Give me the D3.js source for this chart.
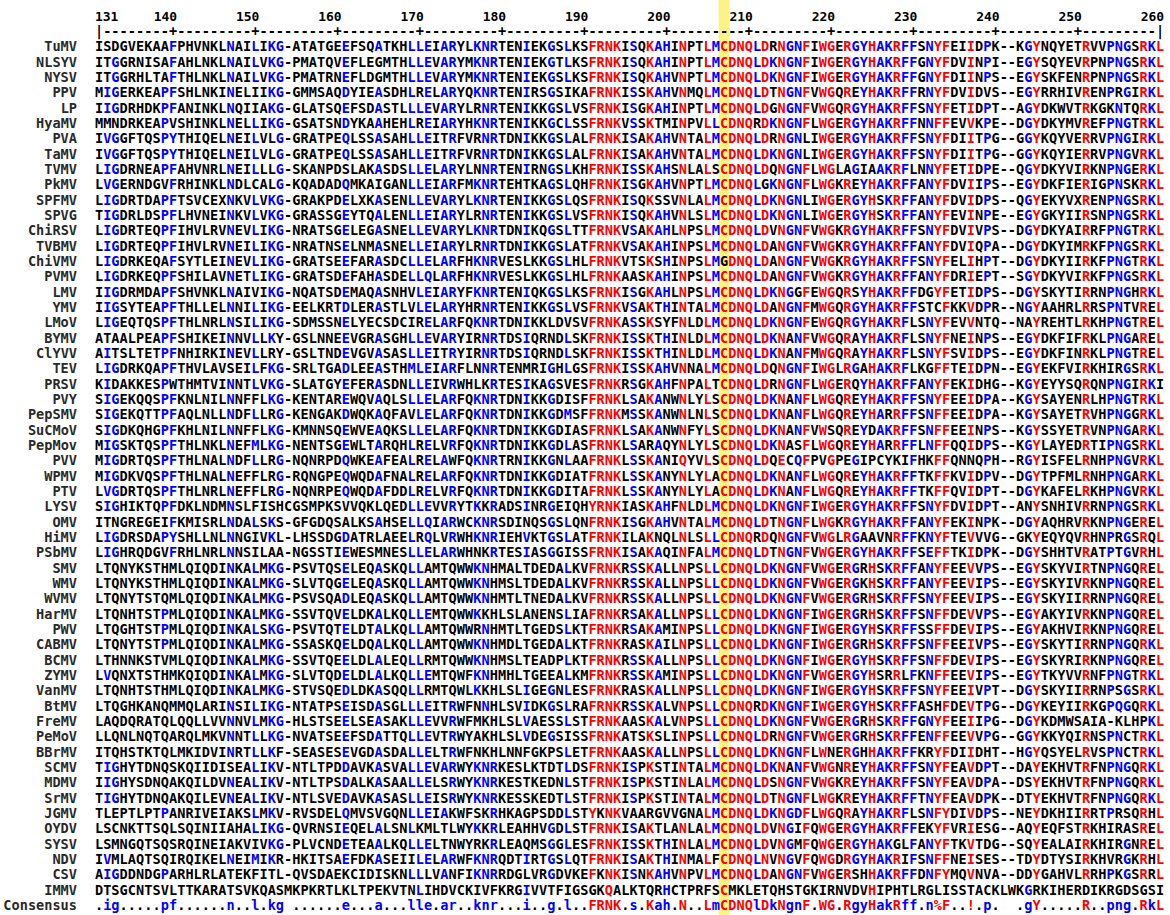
<!DOCTYPE html>
<html><head><meta charset="utf-8">
<script src="https://cdn.jsdelivr.net/npm/d3@7/dist/d3.min.js"></script>
<style>
body{margin:0;background:#fff;}
svg text{font-family:"DejaVu Sans Mono","Liberation Mono",monospace;font-weight:bold;}
</style>
</head><body>
<svg id="chart" width="1170" height="915"></svg>
<script>
// ---------------- DATA ----------------
const firstPos = 131;
const lastPos = 260;
const tickLabels = [131,140,150,160,170,180,190,200,210,220,230,240,250,260];
const highlightPos = [207];

const names = ["TuMV","NLSYV","NYSV","PPV","LP","HyaMV","PVA","TaMV","TVMV","PkMV","SPFMV","SPVG","ChiRSV","TVBMV","ChiVMV","PVMV","LMV","YMV","LMoV","BYMV","ClYVV","TEV","PRSV","PVY","PepSMV","SuCMoV","PepMov","PVV","WPMV","PTV","LYSV","OMV","HiMV","PSbMV","SMV","WMV","WVMV","HarMV","PWV","CABMV","BCMV","ZYMV","VanMV","BtMV","FreMV","PeMoV","BBrMV","SCMV","MDMV","SrMV","JGMV","OYDV","SYSV","NDV","CSV","IMMV"];

const sequences = [
"ISDGVEKAAFPHVNKLNAILIKG-ATATGEEFSQAT"+"KHLLEIARYLKNRTENIEKGSLKSFRNKISQKAHINPTLMCDNQLD"+"RNGNFIWGERGYHAKRFFSNYFEIIDPK--KGYNQYETRVVPNGSRKL",
"ITGGRNISAFAHLNKLNAILVKG-PMATQVEFLEGM"+"THLLEVARYMKNRTENIEKGTLKSFRNKISQKAHINPTLMCDNQLD"+"KNGNFIWGERGYHAKRFFGNYFDVINPI--EGYSQYEVRPNPNGSRKL",
"ITGGRHLTAFTHLNKLNAILVKG-PMATRNEFLDGM"+"THLLEVARYMKNRTENIEKGSLKSFRNKISQKAHVNPTLMCDNQLD"+"KNGNFIWGERGYHAKRFFGNYFDIINPS--EGYSKFENRPNPNGSRKL",
"MIGERKEAPFSHLNKINELIIKG-GMMSAQDYIEAS"+"DHLRELARYQKNRTENIRSGSIKAFRNKISSKAHVNMQLMCDNQLD"+"TNGNFVWGQREYHAKRFFRNYFDVIDVS--EGYRRHIVRENPRGIRKL",
"IIGDRHDKPFANINKLNQIIAKG-GLATSQEFSDAS"+"TLLLEVARYLRNRTENIKKGSLVSFRNKISGKAHINPTLMCDNQLD"+"GNGNFVWGQRGYHAKRFFSNYFETIDPT--AGYDKWVTRKGKNTQRKL",
"MMNDRKEAPVSHINKLNELLIKG-GSATSNDYKAAH"+"EHLREIARYHKNRTENIKKGCLSSFRNKVSSKTMINPVLLCDNQRD"+"KNGNFLWGERGYHAKRFFNNFFEVVKPE--DGYDKYMVREFPNGTRKL",
"IVGGFTQSPYTHIQELNEILVLG-GRATPEQLSSAS"+"AHLLEITRFVRNRTDNIKKGSLALFRNKISAKAHVNTALMCDNQLD"+"RNGNLIWGERGYHAKRFFSNYFDIITPG--GGYKQYVERRVPNGIRKL",
"IVGGFTQSPYTHIQELNEILVLG-GRATPEQLSSAS"+"AHLLEITRFVRNRTDNIKKGSLALFRNKISAKAHVNTALMCDNQLD"+"KNGNLIWGERGYHAKRFFSNYFDIITPG--GGYKQYIERRVPNGVRKL",
"LIGDRNEAPFAHVNRLNEILLLG-SKANPDSLAKAS"+"DSLLELARYLNNRTENIRNGSLKHFRNKISSKAHSNLALSCDNQLD"+"QNGNFLWGLAGIAAKRFLNNYFETIDPE--QGYDKYVIRKNPNGERKL",
"LVGERNDGVFRHINKLNDLCALG-KQADADQMKAIG"+"ANLLEIARFMKNRTEHTKAGSLQHFRNKISGKAHVNPTLMCDNQLG"+"KNGNFLWGKREYHAKRFFANYFDVIIPS--EGYDKFIERIGPNSKRKL",
"LIGDRTDAPFTSVCEXNKVLVKG-GRAKPDELXKAS"+"ENLLEVARYLKNRTENIKKGSLQSFRNKISQKSSVNLALMCDNQLD"+"KNGNLIWGERGYHSKRFFANYFDVIDPS--QGYEKYVXRENPNGSRKL",
"TIGDRLDSPFLHVNEINKVLVKG-GRASSGEYTQAL"+"ENLLEIARYLRNRTENIKKGSLVSFRNKISQKAHVNLSLMCDNQLD"+"KNGNLIWGERGYHSKRFFANYFEVINPE--EGYGKYIIRSNPNGSRKL",
"LIGDRTEQPFIHVLRVNEVLIKG-NRATSGELEGAS"+"NELLEVARYLKNRTDNIKQGSLTTFRNKVSAKAHLNPSLMCDNQLD"+"VNGNFVWGKRGYHAKRFFSNYFDVIVPS--DGYDKYAIRRFPNGTRKL",
"LIGDRTEQPFIHVLRVNEILIKG-NRATNSELNMAS"+"NELLEIARYLRNRTDNIKKGSLATFRNKVSAKAHINPSLMCDNQLD"+"ANGNFVWGKRGYHAKRFFANYFDVIQPA--DGYDKYIMRKFPNGSRKL",
"LIGDRKEQAFSYTLEINEVLIKG-GRATSEEFARAS"+"DCLLELARFHKNRVESLKKGSLHLFRNKVTSKSHINPSLMGDNQLD"+"ANGNFVWGKRGYHAKRFFSNYFELIHPT--DGYDKYIIRKFPNGTRKL",
"LIGDRKEQPFSHILAVNETLIKG-GRATSDEFAHAS"+"DELLQLARFHKNRVESLKKGSLHLFRNKAASKAHINPSLMCDNQLD"+"ANGNFVWGKRGYHAKRFFANYFDRIEPT--SGYDKYVIRKFPNGSRKL",
"IIGDRMDAPFSHVNKLNAIVIKG-NQATSDEMAQAS"+"NHVLEIARYFKNRTENIQKGSLKSFRNKISGKAHLNPSLMCDNQLD"+"KNGGFEWGQRSYHAKRFFDGYFETIDPS--DGYSKYTIRRNPNGHRKL",
"IIGSYTEAPFTHLLELNNILIKG-EELKRTDLERAS"+"TLVLELARYHRNRTENIKKGSLVSFRNKVSAKTHINTALMCDNQLD"+"ANGNFMWGQRGYHAKRFFSTCFKKVDPR--NGYAAHRLRRSPNTVREL",
"LIGEQTQSPFTHLNRLNSILIKG-SDMSSNELYECS"+"DCIRELARFQKNRTDNIKKLDVSVFRNKASSKSYFNLDLMCDNQLD"+"KNGNFEWGQRGYHAKRFLSNYFEVVNTQ--NAYREHTLRKHPNGTREL",
"ATAALPEAPFSHIKEINNVLLKY-GSLNNEEVGRAS"+"GHLLEVARYIRNRTDSIQRNDLSKFRNKISSKTHINLDLMCDNQLD"+"KNANFVWGQRAYHAKRFLSNYFNEINPS--EGYDKFIFRKLPNGAREL",
"AITSLTETPFNHIRKINEVLLRY-GSLTNDEVGVAS"+"ASLLEITRYIRNRTDSIQRNDLSKFRNKISSKTHINLDLMCDNQLD"+"KNANFMWGQRAYHAKRFLSNYFSVIDPS--EGYDKFINRKLPNGTREL",
"LIGDRKQAPFTHVLAVSEILFKG-SRLTGADLEEAS"+"THMLEIARFLNNRTENMRIGHLGSFRNKISSKAHVNNALMCDNQLD"+"QNGNFIWGLRGAHAKRFLKGFFTEIDPN--EGYEKFVIRKHIRGSRKL",
"KIDAKKESPWTHMTVINNTLVKG-SLATGYEFERAS"+"DNLLEIVRWHLKRTESIKAGSVESFRNKRSGKAHFNPALTCDNQLD"+"RNGNFLWGERQYHAKRFFANYFEKIDHG--KGYEYYSQRQNPNGIRKI",
"SIGEKQQSPFKNLNILNNFFLKG-KENTAREWQVAQ"+"LSLLELARFQKNRTDNIKKGDISFFRNKLSAKANWNLYLSCDNQLD"+"KNANFLWGQREYHAKRFFSNYFEEIDPA--KGYSAYENRLHPNGTRKL",
"SIGEKQTTPFAQLNLLNDFLLRG-KENGAKDWQKAQ"+"FAVLELARFQKNRTDNIKKGDMSFFRNKMSSKANWNLNLSCDNQLD"+"KNANFLWGQREYHARRFFSNFFEEIDPA--KGYSAYETRVHPNGGRKL",
"SIGDKQHGPFKHLNILNNFFLKG-KMNNSQEWVEAQ"+"KSLLELARFQKNRTDNIKKGDIASFRNKLSAKANWNFYLSCDNQLD"+"KNANFVWSQREYDAKRFFSNFFEEINPS--KGYSSYETRVNPNGARKL",
"MIGSKTQSPFTHLNKLNEFMLKG-NENTSGEWLTAR"+"QHLRELVRFQKNRTDNIKKGDLASFRNKLSARAQYNLYLSCDNQLD"+"KNASFLWGQREYHARRFFLNFFQQIDPS--KGYLAYEDRTIPNGSRKL",
"MIGDRTQSPFTHLNALNDFLLRG-NQNRPDQWKEAF"+"EALRELAWFQKNRTRNIKKGNLAAFRNKLSSKANIQYVLSCDNQLD"+"QECQFPVGPEGIPCYKIFHKFFQNNQPH--RGYISFELRNHPNGVRKL",
"MIGDKVQSPFTHLNALNEFFLRG-RQNGPEQWQDAF"+"NALRELARFQKNRTDNIKKGDIATFRNKLSSKANYNLYLACDNQLD"+"KNANFLWGQREYHAKRFFTKFFKVIDPV--DGYTPFMLRNHPNGARKL",
"LVGDRTQSPFTHLNRLNEFFLRG-NQNRPEQWQDAF"+"DDLRELVRFQKNRTDNIKKGDITAFRNKLSSKANYNLYLACDNQLD"+"KNANFLWGQREYHAKRFFTKFFQVIDPT--DGYKAFELRKHPNGVRKL",
"SIGHIKTQPFDKLNDMNSLFISHCGSMPKSVVQKLQ"+"EDLLEVVRYTKKRADSINRGEIQHYRNKIASKAHFNLDLMCDNQLD"+"KNGNFIWGERGYHAKRFFSNYFDVIDPT--ANYSNHIVRRNPNGSRKL",
"ITNGREGEIFKMISRLNDALSKS-GFGDQSALKSAH"+"SELLQIARWCKNRSDINQSGSLQNFRNKISGKAHVNTALMCDNQLD"+"TNGNFLWGKRGYHAKRFFANYFEKINPK--DGYAQHRVRKNPNGEREL",
"LIGDRSDAPYSHLLNLNNGIVKL-LHSSDGDATRLA"+"EELRQLVRWHKNRIEHVKTGSLATFRNKILAKNQLNLSLLCDNQRD"+"QNGNFVWGLRGAAVNRFFKNYFTEVVVG--GKYEQYQVRHNPRGSRQL",
"LIGHRQDGVFRHLNRLNNSILAA-NGSSTIEWESMN"+"ESLLELARWHNKRTESIASGGISSFRNKISAKAQINFALMCDNQLD"+"TNGNFVWGERGYHAKRFFSEFFTKIDPK--DGYSHHTVRATPTGVRHL",
"LTQNYKSTHMLQIQDINKALMKG-PSVTQSELEQAS"+"KQLLAMTQWWKNHMALTDEDALKVFRNKRSSKALLNPSLLCDNQLD"+"KNGNFVWGERGRHSKRFFANYFEEVVPS--EGYSKYVIRTNPNGQREL",
"LTQNYKSTHMLQIQDINKALMKG-SLVTQGELEQAS"+"KQLLAMTQWWKNHMSLTDEDALKVFRNKRSSKALLNPSLLCDNQLD"+"KNGNFVWGERGKHSKRFFANYFEEVIPS--EGYSKYIVRKNPNGQREL",
"LTQNYTSTQMLQIQDINKALMKG-PSVSQADLEQAS"+"KQLLAMTQWWKNHMTLTNEDALKVFRNKRSSKALLNPSLLCDNQLD"+"KNGNFVWGERGRHSKRFFSNYFEEVIPS--EGYSKYIIRRNPNGQREL",
"LTQNHTSTPMLQIQDINKALMKG-SSVTQVELDKAL"+"KQLLEMTQWWKKHLSLANENSLIAFRNKRSAKALLNPSLLCDNQLD"+"KNGNFIWGERGRHSKRFFSNFFDEVVPS--EGYAKYIVRKNPNGQREL",
"LTQGHTSTPMLQIQDINKALSKG-PSVTQTELDTAL"+"KQLLAMTQWWRNHMTLTGEDSLKTFRNKRSAKAMINPSLLCDNQLD"+"KNGNFIWGERGYHSKRFFSSFFDEVIPS--EGYAKHVIRKNPNGQREL",
"LTQNYTSTPMLQIQDINKALMKG-SSASKQELDQAL"+"KQLLAMTQWWKNHMDLTGEDALKTFRNKRASKAILNPSLLCDNQLD"+"KNGNFIWGERGRHSKRFFSNFFEEIVPS--EGYSKYTIRRNPNGQRKL",
"LTHNNKSTVMLQIQDINKALMKG-SSVTQEELDLAL"+"EQLLRMTQWWKNHMSLTEADPLKTFRNKRSSKALLNPSLLCDNQLD"+"KNGNFIWGERGYHSKRFFSNFFDEVIPS--EGYSKYRIRKNPNGQREL",
"LVQNXTSTHMKQIQDINKALMKG-SLVTQDELDLAL"+"KQLLEMTQWFKNHMHLTGEEALKMFRNKRSSKAMINPSLLCDNQLD"+"KNGNFVWGERGYHSRRLFKNFFEEVIPS--EGYTKYVVRNFPNGTRKL",
"LTQNHTSTHMLQIQDINKALMKG-STVSQEDLDKAS"+"QQLLRMTQWLKKHLSLIGEGNLESFRNKRASKALLNPSLLCDNQLD"+"KNGNFIWGERGYHSKRFFSNYFEEIVPT--DGYSKYIIRRNPSGSRKL",
"LTQGHKANQMMQLARINSILIKG-NTATPSEISDAS"+"GLLLEITRWFNNHLSVIDKGSLRAFRNKRSSKALVNPSLLCDNQRD"+"KNGNFIWGERGYHSKRFFASHFDEVTPG--DGYKEYIIRKGPQGQRKL",
"LAQDQRATQLQQLLVVNNVLMKG-HLSTSEELSEAS"+"AKLLEVVRWFMKHLSLVAESSLSTFRNKAASKALVNPSLLCDNQLD"+"KNGNFVWGERGRHSKRFFGNYFEEIIPG--DGYKDMWSAIA-KLHPKL",
"LLQNLNQTQARQLMKVNNTLLKG-NVATSEEFSDAT"+"TQLLEVTRWYAKHLSLVDEGSISSFRNKATSKSLINPSLLCDNQLD"+"RNGNFVWGERGRHSKRFFENFFEEVVPG--GGYKKYQIRNSPNCTRKL",
"ITQHSTKTQLMKIDVINRTLLKF-SEASESEVGDAS"+"DALLELTRWFNKHLNNFGKPSLETFRNKAASKALLNPSLLCDNQLD"+"KNGNFLWNERGHHAKRFFKRYFDIIDHT--HGYQSYELRVSPNCTRKL",
"TIGHYTDNQSKQIIDISEALIKV-NTLTPDDAVKAS"+"VALLEVARWYKNRKESLKTDTLDSFRNKISPKSTINTALMCDNQLD"+"KNANFVWGNREYHAKRFFSNYFEAVDPT--DAYEKHVTRFNPNGQRKL",
"IIGHYSDNQAKQILDVNEALIKV-NTLTPSDALKAS"+"AALLELSRWYKNRKESTKEDNLSTFRNKISPKSTINLALMCDNQLD"+"SNGNFVWGKREYHAKRFFSNYFEAVDPA--DSYEKHVTRFNPNGQRKL",
"TIGHYTDNQAKQILEVNEALIKV-NTLSVEDAVKAS"+"ASLLEISRWYKNRKESSKEDTLSTFRNKISPKSTINTALMCDNQLD"+"TNGNFLWGKREYHAKRFFTNYFEAVDPK--DTYEKHVTRFNPNGQRKL",
"TLEPTLPTPANRIVEIAKSLMKV-RVSDELQMVSVG"+"QNLLEIAKWFSKRHKAGPSDDLSTYKNKVAARGVVGNALMCDNQLD"+"KNGDFLWGQRAYHAKRFLSNFYDIVDPS--NEYDKHIIRRTPRSQRHL",
"LSCNKTTSQLSQINIIAHALIKG-QVRNSIEQELAL"+"SNLKMLTLWYKKRLEAHHVGDLSTFRNKISAKTLANLALMCDNQLD"+"VNGIFQWGERGYHAKRFFEKYFVRIESG--AQYEQFSTRKHIRASREL",
"LSMNGQTSQSRQINEIAKVIVKG-PLVCNDETEAAL"+"KQLLELTNWYRKRLEAQMSGGLESFRNKISSKTHINLALMCDNQLD"+"VNGMFQWGERGYHAKGLFANYFTKVTDG--SQYEALAIRKHIRGNREL",
"IVMLAQTSQIRQIKELNEIMIKR-HKITSAEFDKAS"+"EIILELARWFKNRQDTIRTGSLQTFRNKISAKTHINMALFCDNQLN"+"VNGVFQWGDRGYHAKRIFSNFFNEISES--TDYDTYSIRKHVRGKRHL",
"AIGDDNDGPARHLRLATEKFITL-QVSDAEKCIDIS"+"KNLLLVANFIKNRRDGLVRGDVKEFKNKISNKAHVNPVLMCDNQLD"+"ANGNFVWGERSHHAKRFFDNFYMQVNVA--DDYGAHVLRRHPKGSRRL",
"DTSGCNTSVLTTKARATSVKQASMKPKRTLKLTPEK"+"VTNLIHDVCKIVFKRGIVVTFIGSGKQALKTQRHCTPRFSCMKLET"+"QHSTGKIRNVDVHIPHTLRGLISSTACKLWKGRKIHERDIKRGDSGSI"
];

const consensusLabel = "Consensus";
const consensus = ".ig.....pf"+"......n..l"+".kg ......"+"e...a...ll"+"e.ar..knr."+"..i..g.l.."+"FRNK.s.Kah"+".N..LmCDNQ"+"lDkNgnF.WG"+".RgyHakRff"+".n%F..!.p."+"  .gY....."+"R..png.RkL";

// MultAlin equivalence symbols
const equivalences = {"!":"IV","$":"LM","%":"FY","#":"NDQEBZ"};

// ---------------- STYLE ----------------
const W = 1170, H = 915;
const RED = "#ff0000", BLUE = "#0000ff", BLACK = "#000000";
const NCOL = lastPos - firstPos + 1;

const x = d3.scaleLinear().domain([firstPos, lastPos]).range([99, 1160]);
const colW = x(firstPos + 1) - x(firstPos);
const rowCount = sequences.length + 1; // + consensus
const y = d3.scaleLinear().domain([0, rowCount - 1]).range([46.5, 46.5 + (rowCount - 1) * 15.33]);
const fontSize = 13.6;
const baseOff = 4.9;

function groupOf(c) {
  for (const k in equivalences) if (equivalences[k].includes(c)) return equivalences[k];
  return c;
}
function colorFor(r, c) {
  if (!/[A-Z]/.test(r)) return BLACK;
  if (c in equivalences) return equivalences[c].includes(r) ? RED : BLACK;
  if (/[A-Z]/.test(c)) return (r === c || groupOf(c).includes(r)) ? RED : BLACK;
  if (/[a-z]/.test(c)) { const u = c.toUpperCase(); return (r === u || groupOf(u).includes(r)) ? BLUE : BLACK; }
  return BLACK;
}
function consColor(c) {
  if (c in equivalences) return RED;
  if (/[A-Z]/.test(c)) return RED;
  if (/[a-z]/.test(c)) return BLUE;
  return BLACK;
}

const svg = d3.select("#chart");
svg.append("rect").attr("width", W).attr("height", H).attr("fill", "#fff");

// highlight column
svg.selectAll("rect.hl").data(highlightPos).enter().append("rect")
  .attr("class", "hl")
  .attr("x", d => x(d) - 5.5).attr("width", 11)
  .attr("y", 0).attr("height", H)
  .attr("fill", "#fbf386");

// position numbers
svg.selectAll("text.num").data(tickLabels).enter().append("text")
  .attr("class", "num")
  .attr("x", d => d === firstPos ? x(d) - colW / 2 : x(d) + colW / 2)
  .attr("y", 21)
  .attr("text-anchor", d => d === firstPos ? "start" : "end")
  .attr("font-size", 13)
  .attr("fill", BLACK)
  .text(d => d);

// ruler
const positions = d3.range(firstPos, lastPos + 1);
svg.selectAll("text.rul").data(positions).enter().append("text")
  .attr("class", "rul")
  .attr("x", d => x(d)).attr("y", 36)
  .attr("text-anchor", "middle")
  .attr("font-size", fontSize)
  .attr("fill", BLACK)
  .text(d => (d === firstPos || d === lastPos) ? "|" : (d % 10 === 0 ? "+" : "-"));

// rows
const rows = sequences.map((s, i) => ({name: names[i], seq: s.padEnd(NCOL, " ").slice(0, NCOL), i}));
const g = svg.selectAll("g.row").data(rows).enter().append("g").attr("class", "row");

g.append("text")
  .attr("x", 77).attr("y", d => y(d.i) + baseOff)
  .attr("text-anchor", "end")
  .attr("font-size", fontSize)
  .attr("fill", "#2a2a2a")
  .text(d => d.name);

g.append("text")
  .attr("y", d => y(d.i) + baseOff)
  .attr("font-size", fontSize)
  .attr("text-anchor", "middle")
  .selectAll("tspan")
  .data(d => d.seq.split("").map((ch, j) => ({ch, j})).filter(o => o.ch !== " "))
  .enter().append("tspan")
  .attr("x", o => x(firstPos + o.j))
  .attr("fill", o => colorFor(o.ch, consensus[o.j]))
  .text(o => o.ch);

// consensus row
const ci = sequences.length;
svg.append("text")
  .attr("x", 77).attr("y", y(ci) + baseOff)
  .attr("text-anchor", "end")
  .attr("font-size", fontSize)
  .attr("fill", "#2a2a2a")
  .text(consensusLabel);

svg.append("text")
  .attr("y", y(ci) + baseOff)
  .attr("font-size", fontSize)
  .attr("text-anchor", "middle")
  .selectAll("tspan")
  .data(consensus.split("").map((ch, j) => ({ch, j})).filter(o => o.ch !== " "))
  .enter().append("tspan")
  .attr("x", o => x(firstPos + o.j))
  .attr("fill", o => consColor(o.ch))
  .text(o => o.ch);

sequences.forEach((s, i) => { if (s.length !== NCOL) console.warn("length", names[i], s.length); });
if (consensus.length !== NCOL) console.warn("consensus length", consensus.length);
</script>
</body></html>
